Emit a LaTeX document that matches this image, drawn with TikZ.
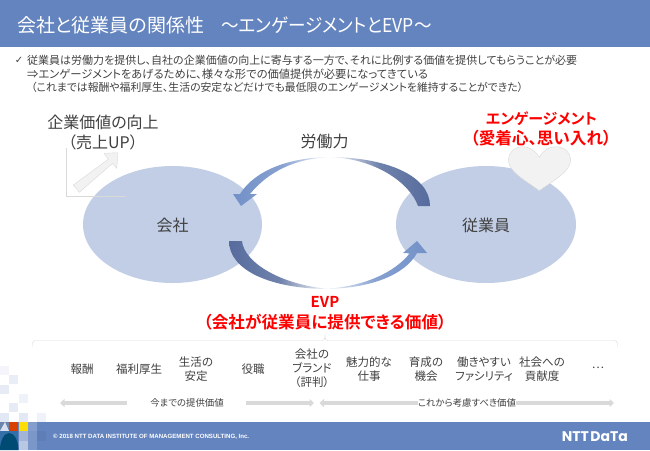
\documentclass[tikz,border=0pt]{standalone}
\usepackage{fontspec}
\setmainfont[RawFeature=+palt,BoldFont={Noto Sans CJK JP Bold}]{Noto Sans CJK JP}
\newfontfamily\symfont{DejaVu Sans}
\newfontfamily\footfont{Liberation Sans}
\newfontfamily\logofont{Poppins}
\usepackage{xcolor}
\usetikzlibrary{arrows.meta}
\definecolor{bandblue}{HTML}{6484BF}
\definecolor{ovalblue}{HTML}{C1CEE5}
\definecolor{arrowlight}{HTML}{7291C8}
\definecolor{arrowdark}{HTML}{566C9D}
\definecolor{lineGrey}{HTML}{D9D9D9}
\definecolor{textGrey}{HTML}{404040}
\newcommand{\fsz}[1]{\fontsize{#1}{#1}\selectfont}
\tikzset{
    oval/.style={fill=ovalblue},
    bigtxt/.style={text=textGrey,font=\fsz{16},align=center,inner sep=0pt},
    bodytxt/.style={text=textGrey,anchor=west,inner sep=0pt},
    redtxt/.style={text=red,font=\fsz{15}\bfseries,align=center,inner sep=0pt},
    redsub/.style={text=red,font=\fsz{16.6}\bfseries,align=center,inner sep=0pt},
    itemtxt/.style={text=textGrey,font=\fsz{11.5},align=center,inner sep=0pt,execute at begin node={\baselineskip=14.2pt}},
    notetxt/.style={text=textGrey,font=\fsz{9.4},inner sep=0pt},
    greyarrow/.style={draw=lineGrey,line width=3.6pt,arrows={-{Triangle[length=4.5pt,width=8pt]}}},
}
\begin{document}
\begin{tikzpicture}[x=1pt,y=-1pt]
    \useasboundingbox (0,0) rectangle (650,450);

    % bands
    \fill[bandblue] (0,0) rectangle (650,47);
    \fill[bandblue] (0,422) rectangle (650,450);

    % mosaic
    \foreach \i/\j/\c in {0/0/8,1/1/14,0/2/16,2/3/10,1/4/16,0/5/18,2/5/18,4/5/10}
        \fill[bandblue!\c!white] ({\i*9.3},{366+\j*9.35}) rectangle ++(9,9);
    \fill[bandblue!70!gray] (0,422) rectangle (9,431);
    \fill[white!75!bandblue] (0,431) -- (5,422) -- (9,431) -- cycle;
    \fill[orange!60!red!85!black] (9.3,422) rectangle (18.4,431);
    \fill[yellow!80!orange] (18.6,422) rectangle (27.7,431);
    \fill[bandblue!80!white] (28,422) rectangle (37,431);
    \fill[cyan!55!blue!80!black] (0,431) rectangle (18.4,450);
    \fill[blue!35!cyan!45!black] (0,450) arc (180:360:9.2 and 17) -- cycle;
    \fill[bandblue!60!white] (18.6,431) rectangle (27.7,440.5);
    \fill[bandblue!85!white] (28,431) rectangle (37,440.5);
    \fill[bandblue!95!black] (37.2,431) rectangle (46,440.5);
    \fill[bandblue!45!white] (18.6,441) rectangle (27.7,450);
    \fill[bandblue!85!white] (28,441) rectangle (37,450);

    % title and text
    \node[anchor=west,text=white,font=\fsz{19},inner sep=0pt] (title) at (17,25) {会社と従業員の関係性\hspace{17pt}\scalebox{0.925}[1]{～エンゲージメントとEVP～}};
    \node[text=textGrey,font=\symfont\fsz{10},inner sep=0pt] (tick) at (19,60.5) {✓};
    \node[bodytxt,font=\fsz{11}] (lineA) at (27,60.5) {従業員は労働力を提供し、自社の企業価値の向上に寄与する一方で、それに比例する価値を提供してもらうことが必要};
    \node[bodytxt,font=\fsz{11.3}] (lineB) at (27,74) {⇒エンゲージメントをあげるために、様々な形での価値提供が必要になってきている};
    \node[bodytxt,font=\fsz{10.85}] (lineC) at (31,87) {（これまでは報酬や福利厚生、生活の安定などだけでも最低限のエンゲージメントを維持することができた）};

    % ovals
    \fill[oval] (172.5,224.5) ellipse (89.5 and 58.5);
    \fill[oval] (486,224.5) ellipse (90 and 58.5);
    \node[bigtxt] (kaisha) at (172.5,225) {会社};
    \node[bigtxt] (jugyoin) at (486,225) {従業員};

    % axes and rising arrow
    \draw[lineGrey] (66.5,148) -- (66.5,196) -- (126,196);
    \draw[draw=lineGrey,fill=black!5] (73.3,185) -- (108.3,159.3) -- (104,153.3) -- (118,152.7)
        -- (116.7,168.3) -- (112.7,163.3) -- (79.3,192.3) -- cycle;
    \node[bigtxt] (kachi) at (103,122) {企業価値の向上};
    \node[bigtxt] (uriage) at (103,142) {（売上UP）};

    % curved arrows
    \shade[left color=arrowlight,right color=white,middle color=arrowlight!85!white]
        (332,157) .. controls (290,157) and (255,170) .. (240,194) -- (233,194) -- (241,206)
        -- (257,194) -- (250,194) .. controls (268,172) and (295,158) .. (332,157) -- cycle;
    \shade[left color=white,right color=arrowdark,middle color=arrowdark!85!white]
        (328,157) .. controls (385,157) and (430,175) .. (430,206) -- (418,206)
        .. controls (410,183) and (375,158) .. (328,157) -- cycle;
    \shade[left color=arrowdark,right color=white,middle color=arrowdark!85!white]
        (229,241) .. controls (229,270) and (270,289) .. (330,289)
        .. controls (280,285) and (244,262) .. (242,241) -- cycle;
    \shade[left color=white,right color=arrowlight,middle color=arrowlight!85!white]
        (322,289) .. controls (370,289) and (405,275) .. (417,253) -- (403,253) -- (417,241)
        -- (427,253) -- (410,253)  .. controls (395,272) and (365,287) .. (322,289) -- cycle;
    \node[bigtxt] (rodo) at (324.5,141) {労働力};

    % heart
    \draw[lineGrey,fill=black!5] (539.3,157.3) .. controls (535,150) and (529,146.7) .. (523,146.7)
        .. controls (514,146.7) and (508.3,153) .. (508.3,160)
        .. controls (508.3,172) and (528,182) .. (539.3,190.7)
        .. controls (551,182) and (570.7,172) .. (570.7,160)
        .. controls (570.7,153) and (565,146.7) .. (555.7,146.7)
        .. controls (549.5,146.7) and (543.5,150) .. (539.3,157.3) -- cycle;
    \node[redtxt] (engage) at (541.5,119) {エンゲージメント};
    \node[redsub] (aichaku) at (541,138.5) {（愛着心、思い入れ）};
    \node[redtxt] (evp) at (325,302) {EVP};
    \node[redsub] (evpsub) at (325,322) {（会社が従業員に提供できる価値）};

    % brace
    \draw[lineGrey,rounded corners=3pt] (32.5,347) -- (32.5,340.5) -- (325,340.5) -- (325,334);
    \draw[lineGrey,rounded corners=3pt] (325,334) -- (325,340.5) -- (617.5,340.5) -- (617.5,347);

    % items
    \node[itemtxt] (hoshu) at (82,369) {報酬};
    \node[itemtxt] (fukuri) at (139,369) {福利厚生};
    \node[itemtxt] (seikatsu) at (196,369) {生活の\\安定};
    \node[itemtxt] (yakushoku) at (253,369) {役職};
    \node[itemtxt] (brand) at (312,368) {会社の\\ブランド\\（評判）};
    \node[itemtxt] (miryoku) at (369,369) {魅力的な\\仕事};
    \node[itemtxt] (ikusei) at (426,369) {育成の\\機会};
    \node[itemtxt] (hataraki) at (484,369) {働きやすい\\ファシリティ};
    \node[itemtxt] (shakai) at (542,369) {社会への\\貢献度};
    \node[itemtxt] (etc) at (598,368) {…};

    % grey arrows
    \coordinate (P1) at (60,403);
    \coordinate (P2) at (314,403);
    \coordinate (Q1) at (319.5,403);
    \coordinate (Q2) at (614,403);
    \node[notetxt] (ima) at (187,403) {今までの提供価値};
    \node[notetxt,fill=white,inner xsep=0pt,inner ysep=2pt] (kore) at (467,403) {これから考慮すべき価値};
    \draw[greyarrow] (127,403) -- (P1);
    \draw[greyarrow] (246,403) -- (P2);
    \draw[greyarrow] (kore.west) -- (Q1);
    \draw[greyarrow] (kore.east) -- (Q2);

    % footer
    \node[anchor=west,text=white,font=\footfont\bfseries\fsz{6.1},inner sep=0pt] (copy) at (53,437) {© 2018 NTT DATA INSTITUTE OF MANAGEMENT CONSULTING, Inc.};
    \node[anchor=east,text=white,font=\logofont\bfseries\fsz{14},inner sep=0pt] (logo) at (628,437) {NTT\hspace{1.5pt}DaTa};
\end{tikzpicture}
\end{document}
